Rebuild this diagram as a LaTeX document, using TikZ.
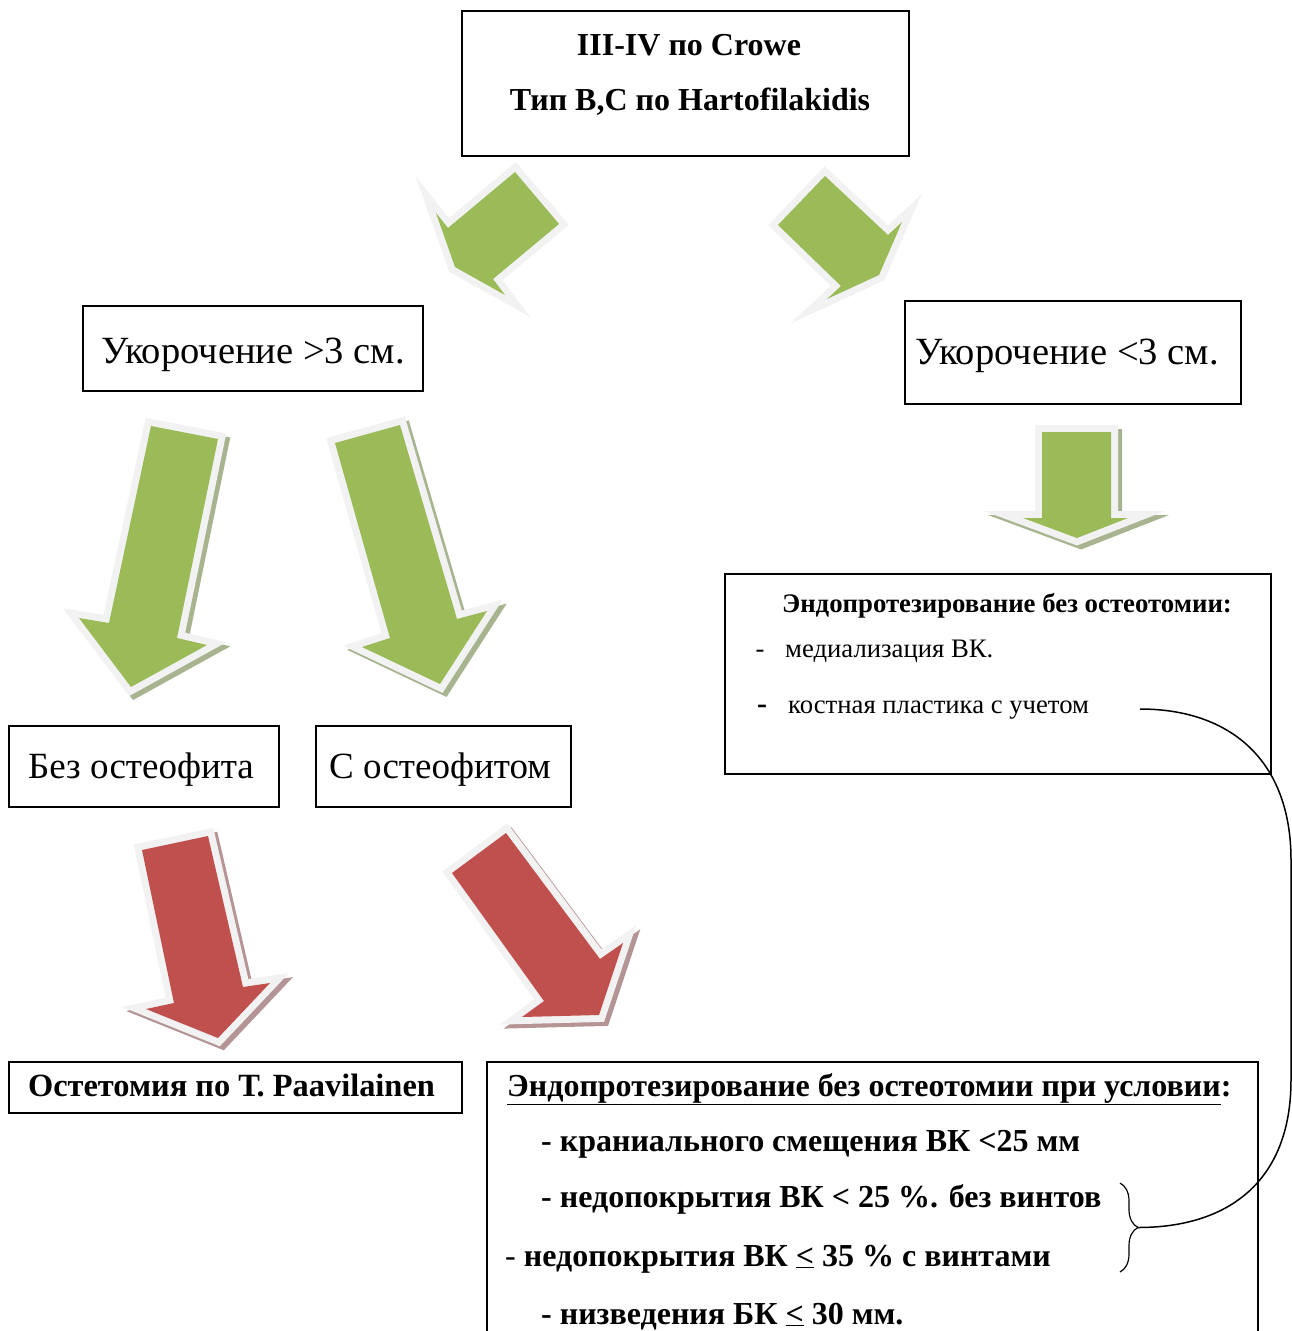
\documentclass[tikz,border=0pt]{standalone}
\usepackage{fontspec}
\setmainfont{Liberation Serif}
\usetikzlibrary{decorations.pathreplacing}

\definecolor{arrgreen}{HTML}{9BBB59}
\definecolor{arrred}{HTML}{C0504D}
\definecolor{rim}{HTML}{F2F2F2}
\definecolor{greenshd}{HTML}{A7B48F}
\definecolor{redshd}{HTML}{B49494}

\tikzstyle{box}=[draw, line width=1.5pt, inner sep=0pt]
\tikzstyle{big}=[inner sep=0pt, font=\fontsize{37}{44}\selectfont]
\tikzstyle{hdr}=[inner sep=0pt, font=\fontsize{32}{38}\selectfont\bfseries]
\tikzstyle{cnd}=[inner sep=0pt, font=\fontsize{32}{38}\selectfont\bfseries]
\tikzstyle{sml}=[inner sep=0pt, font=\fontsize{26.7}{31}\selectfont]

% block arrow: shadow, light rim, body
\newcommand{\fatarrow}[3]{%
  \draw[#2, line width=14pt, line join=miter, xshift=4pt, yshift=-4pt] #3 -- cycle;
  \draw[rim, line width=14pt, line join=miter] #3 -- cycle;
  \fill[#1] #3 -- cycle;}

\begin{document}
\begin{tikzpicture}[x=1pt,y=-1pt]
\useasboundingbox (0,0) rectangle (1292,1331);

% arrows
\fatarrow{arrgreen}{draw=none}{(515,172) -- (559,224) -- (493,279) -- (505,295) -- (455,267) -- (436,213) -- (448,228)}
\fatarrow{arrgreen}{draw=none}{(778,225) -- (825,176) -- (888,235) -- (902,222) -- (879,275) -- (827,299) -- (841,286)}
\fatarrow{arrgreen}{greenshd}{(151,426) -- (218,439) -- (177,638) -- (207,645) -- (131,687) -- (79,618) -- (109,623)}
\fatarrow{arrgreen}{greenshd}{(335,443) -- (400,425) -- (457,619) -- (487,611) -- (440,684) -- (362,647) -- (390,638)}
\fatarrow{arrgreen}{greenshd}{(1042,432) -- (1111,432) -- (1111,518) -- (1128,518) -- (1077,538) -- (1023,518) -- (1042,518)}
\fatarrow{arrred}{redshd}{(142,850) -- (208,836) -- (243,987) -- (270,983) -- (218,1038) -- (146,1009) -- (174,1003)}
\fatarrow{arrred}{redshd}{(452,873) -- (506,833) -- (600,959) -- (623,943) -- (599,1015) -- (522,1017) -- (544,1001)}

% boxes
\node (crowe) [box, minimum width=447, minimum height=145] at (685.5,83.5) {};
\node (crowe1) [hdr, anchor=base] at (689,55) {III-IV по Crowe};
\node (crowe2) [hdr, anchor=base] at (690,110) {Тип B,C по Hartofilakidis};

\node (long) [box, minimum width=340, minimum height=85] at (253,348.5) {};
\node (longtxt) [big, font=\fontsize{38.5}{44}\selectfont, anchor=base] at (253,363) {Укорочение >3 см.};
\node (short) [box, minimum width=336, minimum height=103] at (1073,352.5) {};
\node (shorttxt) [big, font=\fontsize{38.5}{44}\selectfont, anchor=base] at (1067,364) {Укорочение <3 см.};

\node (noost) [box, minimum width=270, minimum height=81] at (144,766.5) {};
\node (noosttxt) [big, anchor=base] at (141,778) {Без остеофита};
\node (ost) [box, minimum width=255, minimum height=81] at (443.5,766.5) {};
\node (osttxt) [big, anchor=base] at (440,778) {С остеофитом};

\node (endo) [box, minimum width=546, minimum height=200] at (998,674) {};
\node (endohead) [sml, font=\fontsize{26.8}{31}\selectfont\bfseries, anchor=base] at (1007,612) {Эндопротезирование без остеотомии:};
\node (dash1) [sml, anchor=base] at (760,657) {-};
\node (item1) [sml, anchor=base west] at (785,657) {медиализация ВК.};
\node (dash2) [sml, font=\fontsize{30}{31}\selectfont\bfseries, anchor=base] at (762,713) {-};
\node (item2) [sml, anchor=base west] at (788,713) {костная пластика с учетом};

\node (paa) [box, minimum width=453, minimum height=51] at (235.5,1087.5) {};
\node (paatxt) [hdr, font=\fontsize{32.4}{38}\selectfont\bfseries, anchor=base] at (231.5,1096) {Остетомия по Т. Paavilainen};

\node (cond) [box, minimum width=771, minimum height=283] at (872.5,1203.5) {};
\node (condhead) [cnd, anchor=base west] at (507,1096) {\underline{Эндопротезирование без остеотомии при условии}:};
\node (cond1) [cnd, anchor=base west] at (541,1151) {- краниального смещения ВК <25 мм};
\node (cond2) [cnd, anchor=base west] at (541,1207) {- недопокрытия ВК < 25 \%. без винтов};
\node (cond3) [cnd, anchor=base west] at (505,1266) {{\mdseries -} недопокрытия ВК \underline{<} 35 \% с винтами};
\node (cond4) [cnd, anchor=base west] at (541,1324) {- низведения БК \underline{<} 30 мм.};

% brace and link to the graft line
\draw[decorate, decoration={brace, amplitude=18pt}, line width=1.2pt] (1120,1183) -- (1120,1272);
\coordinate (bracetip) at (1138,1227.5);
\coordinate (graftend) at (1140,709);
\draw[line width=1.5pt] (graftend) .. controls (1230,709) and (1291,760) .. (1291,860)
  -- (1291,1080) .. controls (1291,1180) and (1230,1227.5) .. (bracetip);

\end{tikzpicture}
\end{document}
